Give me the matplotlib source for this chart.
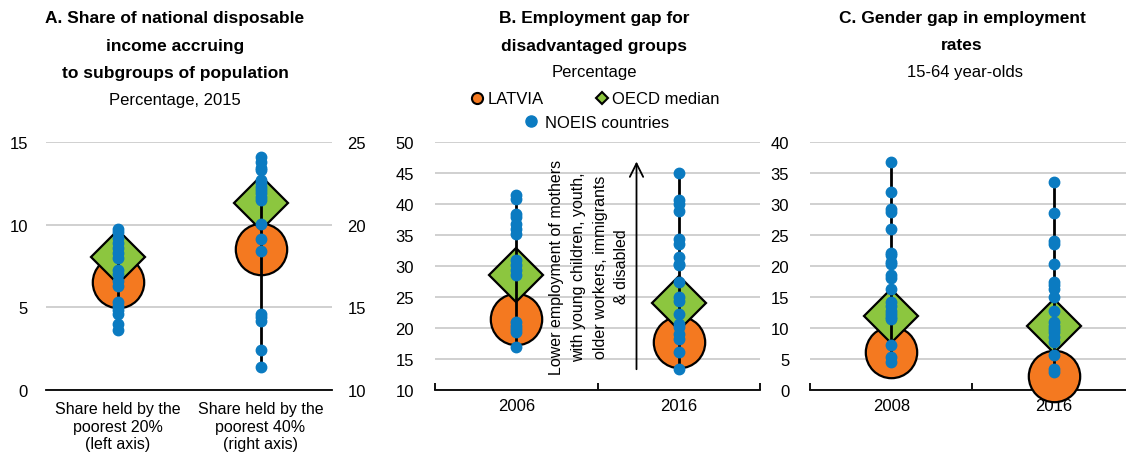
import numpy as np
import matplotlib
matplotlib.use("Agg")
import matplotlib.pyplot as plt
from matplotlib.lines import Line2D

plt.rcParams['font.family'] = ['Liberation Sans', 'DejaVu Sans']

ORANGE = '#F47920'
GREEN = '#8CC63F'
BLUE = '#0B7BC1'
GRID = '#C8C8C8'

# Panel A: share of income (left axis 20%, right axis 40%)
a_cats = ["Share held by the\npoorest 20%\n(left axis)", "Share held by the\npoorest 40%\n(right axis)"]
a_latvia = [6.55, 18.5]
a_oecd = [8.05, 21.3]
a_noeis_20 = [9.75, 9.55, 9.2, 8.9, 8.6, 8.3, 8.0, 7.25, 7.0, 6.6, 6.3, 5.3, 5.1, 4.85, 4.6, 4.0, 3.6]
a_noeis_40 = [24.1, 23.8, 23.4, 23.3, 22.7, 22.5, 22.3, 22.1, 21.9, 21.7, 21.5, 20.05,
              19.15, 18.4, 14.6, 14.4, 14.2, 12.4, 11.4]

# Panel B: employment gap for disadvantaged groups
b_years = ["2006", "2016"]
b_latvia = [21.5, 17.8]
b_oecd = [28.6, 24.1]
b_noeis_2006 = [41.4, 40.8, 38.4, 37.9, 36.8, 36.0, 35.2, 30.9, 30.1, 29.3, 28.5,
                20.9, 20.4, 19.9, 19.3, 16.9]
b_noeis_2016 = [45.0, 40.6, 40.0, 38.8, 34.4, 33.6, 31.4, 30.4, 30.1, 27.5, 25.0, 24.4,
                22.3, 20.7, 20.1, 19.0, 18.2, 16.1, 13.4]

# Panel C: gender gap in employment rates
c_years = ["2008", "2016"]
c_latvia = [6.2, 2.3]
c_oecd = [12.0, 10.4]
c_noeis_2008 = [36.8, 32.0, 29.2, 28.7, 26.0, 22.1, 21.7, 20.6, 20.3, 18.5, 18.0, 16.3,
                14.2, 13.6, 12.8, 12.3, 11.7, 11.4, 7.2, 5.3, 4.5]
c_noeis_2016 = [33.5, 28.5, 24.1, 23.6, 20.4, 17.4, 16.9, 16.3, 15.0, 12.8, 10.9, 10.4,
                9.9, 9.3, 8.5, 7.7, 5.7, 3.4, 2.9]

FS = 12


def draw_group(ax, x, latvia, oecd, noeis):
    ax.plot(x, latvia, 'o', ms=37, mfc=ORANGE, mec='black', mew=1.6, zorder=3, clip_on=False)
    ax.plot(x, oecd, 'D', ms=27, mfc=GREEN, mec='black', mew=1.6, zorder=4, clip_on=False)
    ax.plot([x, x], [min(noeis), max(noeis)], color='black', lw=2, zorder=5, clip_on=False)
    ax.plot([x] * len(noeis), noeis, 'o', ms=7.5, color=BLUE, zorder=6, clip_on=False)


def style(ax, ticks, lo, hi, step):
    ax.set_ylim(lo, hi)
    ax.set_yticks(np.arange(lo, hi + 0.1, step))
    ax.set_xlim(-0.5, 1.5)
    ax.grid(axis='y', color=GRID, lw=1.2, zorder=0)
    ax.set_axisbelow(True)
    for s in ['left', 'right', 'top']:
        ax.spines[s].set_visible(False)
    ax.spines['bottom'].set_linewidth(1.3)
    ax.tick_params(axis='y', length=0, labelsize=FS, pad=15)
    ax.set_xticks([0, 1])
    ax.set_xticklabels(ticks, fontsize=FS)
    ax.tick_params(axis='x', which='major', length=0, pad=6)


fig = plt.figure(figsize=(11.26, 4.56), dpi=100)
bottom = 65 / 456
height = 248 / 456

# Panel A
axA = fig.add_axes([46 / 1126, bottom, 286 / 1126, height])
style(axA, a_cats, 0, 15, 5)
axA.tick_params(axis='y', pad=13)
axA.set_xticklabels(a_cats, fontsize=11.5, linespacing=1.2)
axA.tick_params(axis='x', pad=8)
axA2 = axA.twinx()
axA2.set_ylim(10, 25)
axA2.set_yticks([10, 15, 20, 25])
for s in ['left', 'right', 'top', 'bottom']:
    axA2.spines[s].set_visible(False)
axA2.tick_params(axis='y', length=0, labelsize=FS, pad=11)
draw_group(axA, 0, a_latvia[0], a_oecd[0], a_noeis_20)
draw_group(axA2, 1, a_latvia[1], a_oecd[1], a_noeis_40)

# Panel B
axB = fig.add_axes([435 / 1126, bottom, 325 / 1126, height])
style(axB, b_years, 10, 50, 5)
axB.set_xticks([-0.5, 0.5, 1.5], minor=True)
axB.tick_params(axis='x', which='minor', direction='in', length=5, width=1.3)
for i in range(2):
    draw_group(axB, i, b_latvia[i], b_oecd[i], [b_noeis_2006, b_noeis_2016][i])
axB.annotate('', xy=(0.74, 47.3), xytext=(0.74, 12.9),
             arrowprops=dict(arrowstyle='->', lw=1.3, color='black', mutation_scale=24))
axB.text(0.45, 30.0, "Lower employment of mothers\nwith young children, youth,\nolder workers, immigrants\n& disabled",
         rotation=90, ha='center', va='center', fontsize=11.5, linespacing=1.55)

# Panel C
axC = fig.add_axes([810 / 1126, bottom, 325 / 1126, height])
style(axC, c_years, 0, 40, 5)
axC.set_xticks([-0.5, 0.5, 1.5], minor=True)
axC.tick_params(axis='x', which='minor', direction='in', length=5, width=1.3)
for i in range(2):
    draw_group(axC, i, c_latvia[i], c_oecd[i], [c_noeis_2008, c_noeis_2016][i])

# Titles
def ftext(x, y, s, **kw):
    fig.text(x / 1126, 1 - y / 456, s, ha='center', va='center', **kw)

TS = 12.5
ftext(175, 19, "A. Share of national disposable", fontsize=TS, weight='bold')
ftext(175, 46, "income accruing", fontsize=TS, weight='bold')
ftext(175, 74, "to subgroups of population", fontsize=TS, weight='bold')
ftext(175, 100, "Percentage, 2015", fontsize=FS)
ftext(594, 19, "B. Employment gap for", fontsize=TS, weight='bold')
ftext(594, 46, "disadvantaged groups", fontsize=TS, weight='bold')
ftext(594, 73, "Percentage", fontsize=FS)
ftext(962, 19, "C. Gender gap in employment", fontsize=TS, weight='bold')
ftext(962, 46, "rates", fontsize=TS, weight='bold')
ftext(965, 73, "15-64 year-olds", fontsize=FS)

# Legend
h_lat = Line2D([], [], marker='o', ls='none', ms=8, mfc=ORANGE, mec='black', mew=1.5)
h_oecd = Line2D([], [], marker='D', ls='none', ms=6.5, mfc=GREEN, mec='black', mew=1.5)
h_noeis = Line2D([], [], marker='o', ls='none', ms=8, color=BLUE)
fig.legend([h_lat, h_oecd], ["LATVIA", "OECD median"], ncol=2, frameon=False,
           loc='center', bbox_to_anchor=(594 / 1126, 1 - 100 / 456), fontsize=FS,
           handletextpad=0.1, columnspacing=3.0, handlelength=1.0)
fig.legend([h_noeis], ["NOEIS countries"], frameon=False,
           loc='center', bbox_to_anchor=(596 / 1126, 1 - 123 / 456), fontsize=FS,
           handletextpad=0.3, handlelength=1.0)

fig.savefig('out.png', dpi=100)
